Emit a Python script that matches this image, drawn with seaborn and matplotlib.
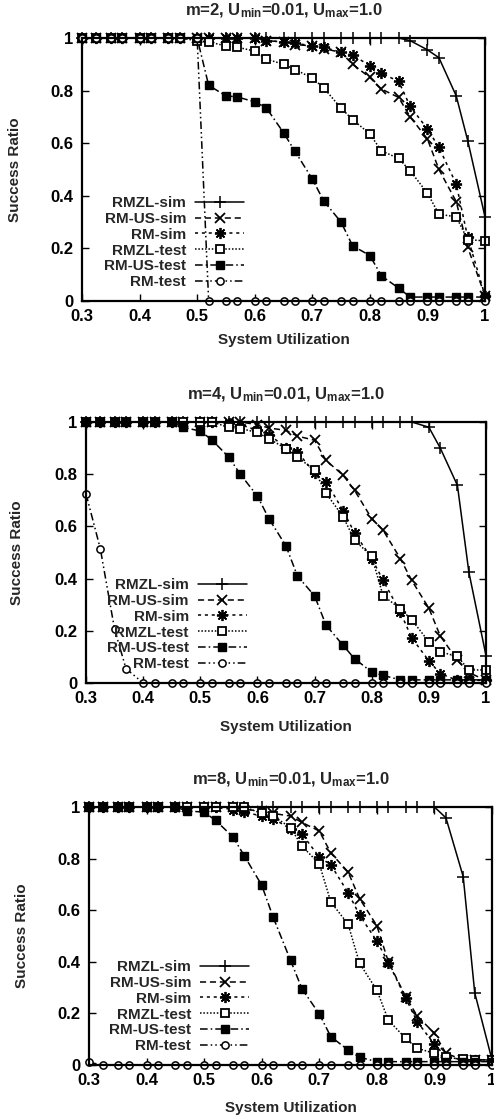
import matplotlib
matplotlib.use("Agg")
import matplotlib.pyplot as plt
import seaborn as sns
import pandas as pd

# ---------------- data ----------------
X = [0.30, 0.325, 0.35, 0.37, 0.40, 0.42, 0.45, 0.47, 0.50, 0.52, 0.55, 0.57,
     0.60, 0.62, 0.65, 0.67, 0.70, 0.72, 0.75, 0.77, 0.80, 0.82, 0.85, 0.87,
     0.90, 0.92, 0.95, 0.97, 1.00]

labels = ["RMZL-sim", "RM-US-sim", "RM-sim", "RMZL-test", "RM-US-test", "RM-test"]
titles = ["m=2", "m=4", "m=8"]
x_ticks = [0.3, 0.4, 0.5, 0.6, 0.7, 0.8, 0.9, 1.0]
x_ticklabels = ["0.3", "0.4", "0.5", "0.6", "0.7", "0.8", "0.9", "1"]
y_ticks = [0, 0.2, 0.4, 0.6, 0.8, 1.0]
y_ticklabels = ["0", "0.2", "0.4", "0.6", "0.8", "1"]

# m = 2
rmzl_sim_m2 = [1, 1, 1, 1, 1, 1, 1, 1, 1, 1, 1, 1, 1, 1, 1, 1, 1, 1, 1, 1, 1, 1, 1,
               0.99, 0.955, 0.925, 0.78, 0.61, 0.32]
rmus_sim_m2 = [1, 1, 1, 1, 1, 1, 1, 1, 1, 1, 1, 1, 1,
               0.99, 0.985, 0.975, 0.97, 0.96, 0.945, 0.90, 0.85, 0.806, 0.774,
               0.70, 0.616, 0.50, 0.378, 0.204, 0.02]
rm_sim_m2 = [1, 1, 1, 1, 1, 1, 1, 1, 1, 1, 1, 1, 1,
             0.99, 0.985, 0.98, 0.97, 0.965, 0.946, 0.935, 0.895, 0.866, 0.835,
             0.74, 0.654, 0.584, 0.445, 0.242, 0.02]
rmzl_test_m2 = [1, 1, 1, 1, 1, 1, 1, 1,
                0.99, 0.985, 0.97, 0.965, 0.95, 0.92, 0.90, 0.88, 0.848, 0.81,
                0.733, 0.69, 0.635, 0.571, 0.542, 0.495, 0.41, 0.33, 0.32, 0.233, 0.229]
rmus_test_m2 = [1, 1, 1, 1, 1, 1, 1, 1, 1,
                0.82, 0.78, 0.776, 0.757, 0.735, 0.64, 0.569, 0.464, 0.38, 0.30,
                0.21, 0.173, 0.096, 0.049, 0.015, 0.015, 0.015, 0.015, 0.015, 0.015]
rm_test_m2 = [1, 1, 1, 1, 1, 1, 1, 1, 1,
              0, 0, 0, 0, 0, 0, 0, 0, 0, 0, 0, 0, 0, 0, 0, 0, 0, 0, 0, 0]

# m = 4
rmzl_sim_m4 = [1, 1, 1, 1, 1, 1, 1, 1, 1, 1, 1, 1, 1, 1, 1, 1, 1, 1, 1, 1, 1, 1, 1, 1,
               0.98, 0.90, 0.757, 0.425, 0.105]
rmus_sim_m4 = [1, 1, 1, 1, 1, 1, 1, 1, 1, 1, 1, 1,
               0.99, 0.977, 0.968, 0.946, 0.93, 0.853, 0.796, 0.738, 0.63, 0.585,
               0.477, 0.393, 0.287, 0.18, 0.087, 0.04, 0.01]
rm_sim_m4 = [1, 1, 1, 1, 1, 1, 1, 1, 1, 1,
             0.995, 0.99, 0.968, 0.952, 0.902, 0.885, 0.805, 0.772, 0.66, 0.575,
             0.477, 0.393, 0.272, 0.173, 0.085, 0.036, 0.01, 0.01, 0.01]
rmzl_test_m4 = [1, 1, 1, 1, 1, 1, 1, 1, 1, 1,
                0.98, 0.975, 0.96, 0.936, 0.898, 0.866, 0.815, 0.727, 0.637, 0.547,
                0.485, 0.334, 0.285, 0.242, 0.158, 0.119, 0.102, 0.05, 0.05]
rmus_test_m4 = [1, 1, 1, 1, 1, 1, 1,
                0.98, 0.965, 0.932, 0.865, 0.80, 0.716, 0.63, 0.525, 0.41, 0.334,
                0.222, 0.144, 0.093, 0.042, 0.029, 0.012, 0.012, 0.012, 0.012,
                0.012, 0.012, 0.012]
rm_test_m4 = [0.725, 0.515, 0.206, 0.055, 0, 0, 0, 0, 0, 0, 0, 0, 0, 0, 0, 0, 0,
              0, 0, 0, 0, 0, 0, 0, 0, 0, 0, 0, 0]

# m = 8
rmzl_sim_m8 = [1, 1, 1, 1, 1, 1, 1, 1, 1, 1, 1, 1, 1, 1, 1, 1, 1, 1, 1, 1, 1, 1, 1, 1, 1,
               0.958, 0.73, 0.28, 0.02]
rmus_sim_m8 = [1, 1, 1, 1, 1, 1, 1, 1, 1, 1, 1,
               0.99, 0.985, 0.975, 0.965, 0.94, 0.907, 0.822, 0.748, 0.645, 0.54,
               0.40, 0.265, 0.19, 0.123, 0.045, 0.02, 0.02, 0.02]
rm_sim_m8 = [1, 1, 1, 1, 1, 1, 1, 1, 1, 1,
             0.99, 0.98, 0.965, 0.955, 0.915, 0.895, 0.806, 0.776, 0.668, 0.581,
             0.48, 0.397, 0.26, 0.168, 0.08, 0.032, 0.02, 0.02, 0.02]
rmzl_test_m8 = [1, 1, 1, 1, 1, 1, 1, 1, 1, 1, 1, 1,
                0.975, 0.965, 0.92, 0.848, 0.78, 0.632, 0.546, 0.394, 0.29, 0.174,
                0.103, 0.065, 0.045, 0.03, 0.022, 0.02, 0.02]
rmus_test_m8 = [1, 1, 1, 1, 1, 1, 1,
                0.985, 0.98, 0.948, 0.884, 0.81, 0.697, 0.572, 0.406, 0.295, 0.198,
                0.11, 0.058, 0.03, 0.013, 0.013, 0.013, 0.013, 0.013, 0.013, 0.013,
                0.013, 0.013]
rm_test_m8 = [0.01, 0, 0, 0, 0, 0, 0, 0, 0, 0, 0, 0, 0, 0, 0, 0, 0, 0, 0, 0, 0, 0,
              0, 0, 0, 0, 0, 0, 0]

panels = [
    [rmzl_sim_m2, rmus_sim_m2, rm_sim_m2, rmzl_test_m2, rmus_test_m2, rm_test_m2],
    [rmzl_sim_m4, rmus_sim_m4, rm_sim_m4, rmzl_test_m4, rmus_test_m4, rm_test_m4],
    [rmzl_sim_m8, rmus_sim_m8, rm_sim_m8, rmzl_test_m8, rmus_test_m8, rm_test_m8],
]

# ---------------- style ----------------
sns.set_theme(style="ticks")
plt.rcParams["font.family"] = ["Liberation Sans", "DejaVu Sans"]
plt.rcParams["font.weight"] = "bold"
plt.rcParams["mathtext.fontset"] = "custom"
plt.rcParams["mathtext.rm"] = "Liberation Sans:bold"
plt.rcParams["mathtext.it"] = "Liberation Sans:bold"
plt.rcParams["mathtext.bf"] = "Liberation Sans:bold"

styles = [
    dict(linestyle="-", marker="+", markersize=8, markerfacecolor="black", markeredgewidth=1.1),
    dict(linestyle=(0, (4, 2.5)), marker="x", markersize=6.5, markerfacecolor="black", markeredgewidth=1.3),
    dict(linestyle=(0, (2, 2.5)), marker=(8, 2, 0), markersize=8, markerfacecolor="black", markeredgewidth=1.3),
    dict(linestyle=(0, (1, 1.2)), marker="s", markersize=5.8, markerfacecolor="white", markeredgewidth=1.3),
    dict(linestyle=(0, (5, 2, 1, 2)), marker="s", markersize=5.8, markerfacecolor="black", markeredgewidth=1.0),
    dict(linestyle=(0, (5, 2, 1, 2, 1, 2)), marker="o", markersize=5.2, markerfacecolor="white", markeredgewidth=1.1),
]

W, H = 494, 1117
fig = plt.figure(figsize=(W / 100, H / 100), dpi=100)

# axes placements in pixels: left, right, top(y=1), bottom(y=0)
boxes = [(82, 485, 38, 301), (86, 486, 422, 683), (89, 492, 807, 1065)]
xlabel_y = [-0.12, -0.14, -0.14]
ylabel_x = [-0.15, -0.155, -0.15]
leg_x = [0.425, 0.425, 0.42]

for i, (vals, box) in enumerate(zip(panels, boxes)):
    l, r, t, b = box
    ax = fig.add_axes([l / W, 1 - b / H, (r - l) / W, (b - t) / H])
    for lab, v, st in zip(labels, vals, styles):
        df = pd.DataFrame({"u": X, "ratio": v})
        sns.lineplot(data=df, x="u", y="ratio", ax=ax, color="black",
                     markeredgecolor="black", linewidth=1.1, label=lab,
                     clip_on=False, **st)
    ax.set_xlim(0.3, 1.0)
    ax.set_ylim(0, 1.0)
    ax.set_xticks(x_ticks)
    ax.set_xticklabels(x_ticklabels)
    ax.set_yticks(y_ticks)
    ax.set_yticklabels(y_ticklabels)
    ax.tick_params(direction="in", top=True, right=True, length=5, width=1.0,
                   labelsize=12, pad=6, colors="black")
    for lbl in ax.get_xticklabels() + ax.get_yticklabels():
        lbl.set_fontweight("bold")
    for sp in ax.spines.values():
        sp.set_linewidth(1.6)
        sp.set_color("black")
        sp.set_visible(True)
    ax.set_xlabel("System Utilization", fontsize=11, fontweight="bold")
    ax.set_ylabel("Success Ratio", fontsize=11, fontweight="bold")
    ax.xaxis.set_label_coords(0.5, xlabel_y[i])
    ax.yaxis.set_label_coords(ylabel_x[i], 0.5)
    ax.set_title(titles[i] + r", U$_{\rm min}$=0.01, U$_{\rm max}$=1.0",
                 fontsize=12, fontweight="bold", pad=16)
    leg = ax.legend(loc="lower right", bbox_to_anchor=(leg_x[i], 0.01),
                    frameon=False, markerfirst=False, handlelength=3.2,
                    handletextpad=0.6, labelspacing=0.12, borderaxespad=0.2,
                    prop={"size": 11, "weight": "bold"})

fig.savefig("out.png", dpi=100)
